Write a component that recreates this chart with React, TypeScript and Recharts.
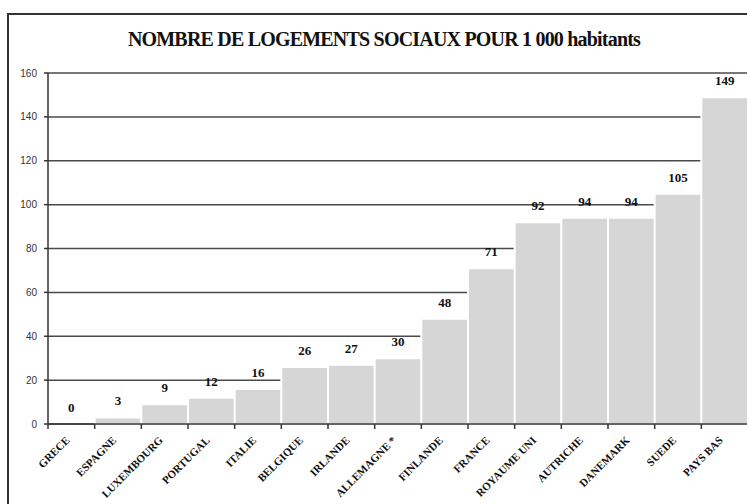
import React from "react";
import { ComposedChart, Bar, Line, XAxis, YAxis, CartesianGrid, LabelList } from "recharts";

const countries = [
  "GRECE", "ESPAGNE", "LUXEMBOURG", "PORTUGAL", "ITALIE", "BELGIQUE", "IRLANDE",
  "ALLEMAGNE *", "FINLANDE", "FRANCE", "ROYAUME UNI", "AUTRICHE", "DANEMARK", "SUEDE", "PAYS BAS",
];
const logements = [0, 3, 9, 12, 16, 26, 27, 30, 48, 71, 92, 94, 94, 105, 149];
const yTicks = [0, 20, 40, 60, 80, 100, 120, 140, 160];
const title = "NOMBRE DE LOGEMENTS SOCIAUX POUR 1 000 habitants";

const data = countries.map((c, i) => ({ pays: c, valeur: logements[i] }));

const W = 747;
const H = 504;
const Y_AXIS_W = 48;
const MARGIN_RIGHT = -1;
const BAND = (W - Y_AXIS_W - MARGIN_RIGHT) / countries.length;

const XTick = (props: any) => {
  const { x, y, payload } = props;
  return (
    <g>
      <line x1={x - BAND / 2} x2={x - BAND / 2} y1={y} y2={y + 5} stroke="#333" strokeWidth={1.5} />
      <text
        x={x - 1}
        y={y + 17}
        textAnchor="end"
        transform={`rotate(-45 ${x - 1} ${y + 17})`}
        fontFamily="'Liberation Serif', 'DejaVu Serif', serif"
        fontWeight="bold"
        fontSize={11}
        fill="#111"
      >
        {payload.value}
      </text>
    </g>
  );
};

export default function App() {
  return (
    <div style={{ position: "absolute", left: 0, top: 0, width: W, height: H, overflow: "hidden", background: "#fff" }}>
      <div
        style={{
          position: "absolute",
          left: 7,
          top: 13,
          width: 800,
          height: 600,
          border: "2px solid #333",
          boxSizing: "border-box",
        }}
      />
      <div
        style={{
          position: "absolute",
          left: 0,
          width: 768,
          top: 28,
          textAlign: "center",
          fontFamily: "'Liberation Serif', serif",
          fontWeight: "bold",
          fontSize: 20,
          color: "#111",
          letterSpacing: -0.8,
          whiteSpace: "nowrap",
        }}
      >
        {title}
      </div>
      <div style={{ position: "absolute", left: 0, top: 0 }}>
        <ComposedChart
          width={W}
          height={H}
          data={data}
          margin={{ top: 73, right: MARGIN_RIGHT, bottom: 0, left: 0 }}
          barCategoryGap={0}
        >
          <CartesianGrid vertical={false} stroke="#4a4a4a" strokeWidth={1.5} />
          <XAxis
            dataKey="pays"
            interval={0}
            height={80}
            tickLine={false}
            tickSize={0}
            tickMargin={0}
            axisLine={{ stroke: "#333", strokeWidth: 1.5 }}
            tick={<XTick />}
          />
          <YAxis
            width={Y_AXIS_W}
            domain={[0, 160]}
            ticks={yTicks}
            interval={0}
            tickSize={4}
            tickMargin={7}
            axisLine={{ stroke: "#333", strokeWidth: 1.5 }}
            tickLine={{ stroke: "#333", strokeWidth: 1.5 }}
            tick={{ fontFamily: "'Liberation Sans', Arial, sans-serif", fontSize: 10, fill: "#333" }}
          />
          <Bar dataKey="valeur" fill="#d6d6d6" stroke="#ffffff" strokeWidth={2} isAnimationActive={false} />
          <Line
            dataKey="valeur"
            stroke="none"
            dot={false}
            activeDot={false}
            legendType="none"
            isAnimationActive={false}
          >
            <LabelList
              dataKey="valeur"
              position="top"
              offset={12}
              fontFamily="'Liberation Serif', serif"
              fontWeight="bold"
              fontSize={13}
              fill="#111"
            />
          </Line>
        </ComposedChart>
      </div>
    </div>
  );
}
